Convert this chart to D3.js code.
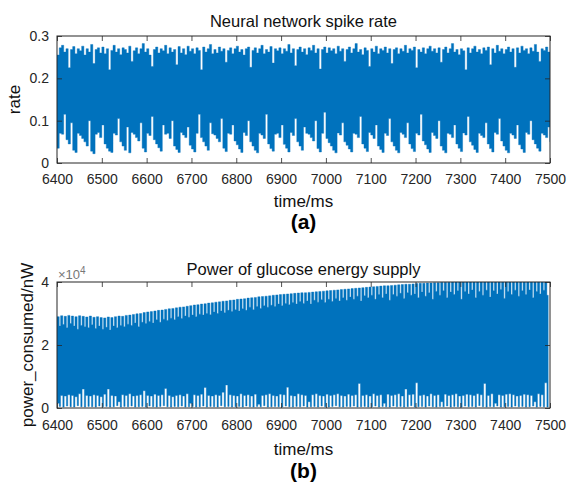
<!DOCTYPE html>
<html><head><meta charset="utf-8">
<script src="https://cdn.jsdelivr.net/npm/d3@7"></script>
<style>
html,body{margin:0;padding:0;background:#fff;}
svg{display:block;font-family:"Liberation Sans",Arial,Helvetica,sans-serif;}
</style></head>
<body><svg id="chart" width="567" height="484"></svg>
<script>
// ---------- Data: panel (a) Neural network spike rate ----------
const aTitle = "Neural network spike rate";
const aXTicks = [6400,6500,6600,6700,6800,6900,7000,7100,7200,7300,7400,7500];
const aYTicks = [0,0.1,0.2,0.3];
const aStart = 6400, aStep = 5;           // ms per sample (min / max of the rate within it)
const aTroughs = [
0.035,0.07,0.068,0.115,0.055,0.045,0.095,0.03,0.025,0.07,
0.065,0.058,0.05,0.04,0.1,0.028,0.022,0.068,0.072,0.06,
0.09,0.045,0.035,0.028,0.025,0.07,0.066,0.105,0.05,0.04,
0.03,0.085,0.024,0.072,0.068,0.06,0.052,0.095,0.035,0.026,
0.07,0.065,0.11,0.055,0.045,0.036,0.028,0.09,0.068,0.07,
0.058,0.1,0.04,0.032,0.025,0.072,0.066,0.06,0.085,0.042,
0.033,0.026,0.07,0.115,0.06,0.05,0.04,0.03,0.095,0.069,
0.066,0.058,0.05,0.105,0.035,0.027,0.07,0.068,0.09,0.052,
0.043,0.033,0.025,0.072,0.065,0.1,0.05,0.04,0.03,0.024,
0.07,0.066,0.058,0.115,0.045,0.034,0.028,0.068,0.07,0.06,
0.09,0.044,0.035,0.026,0.072,0.065,0.105,0.05,0.04,0.03,
0.085,0.07,0.068,0.06,0.052,0.1,0.034,0.026,0.07,0.12,
0.058,0.048,0.04,0.03,0.024,0.071,0.066,0.095,0.05,0.042,
0.033,0.026,0.07,0.068,0.06,0.11,0.045,0.035,0.027,0.072,
0.066,0.058,0.09,0.04,0.032,0.025,0.07,0.065,0.105,0.05,
0.04,0.03,0.024,0.072,0.068,0.06,0.095,0.045,0.034,0.027,
0.07,0.066,0.115,0.052,0.043,0.033,0.025,0.072,0.065,0.058,
0.1,0.04,0.03,0.024,0.07,0.068,0.06,0.09,0.045,0.035,
0.027,0.071,0.066,0.11,0.05,0.042,0.032,0.025,0.07,0.065,
0.06,0.095,0.045,0.034,0.026,0.072,0.068,0.105,0.052,0.04,
0.03,0.024,0.07,0.066,0.058,0.09,0.043,0.033,0.025,0.072,
0.068,0.1,0.055,0.045,0.035,0.028,0.07,0.066,0.06,0.085,
0.05];
const aPeaks = [
0.255,0.272,0.278,0.262,0.27,0.225,0.268,0.275,0.258,0.27,
0.265,0.276,0.255,0.27,0.262,0.28,0.235,0.268,0.272,0.26,
0.274,0.258,0.27,0.22,0.266,0.278,0.262,0.27,0.256,0.272,
0.268,0.26,0.276,0.24,0.265,0.272,0.258,0.27,0.282,0.262,
0.27,0.255,0.228,0.268,0.274,0.26,0.27,0.265,0.278,0.258,
0.272,0.262,0.268,0.232,0.275,0.26,0.27,0.256,0.276,0.264,
0.27,0.258,0.272,0.266,0.22,0.274,0.262,0.27,0.28,0.258,
0.268,0.26,0.274,0.264,0.27,0.238,0.266,0.272,0.258,0.27,
0.276,0.262,0.268,0.255,0.27,0.274,0.226,0.266,0.272,0.26,
0.27,0.278,0.258,0.268,0.262,0.275,0.236,0.27,0.265,0.272,
0.258,0.27,0.264,0.28,0.26,0.27,0.23,0.268,0.274,0.262,
0.27,0.256,0.272,0.266,0.278,0.26,0.27,0.222,0.268,0.274,
0.26,0.272,0.265,0.27,0.258,0.276,0.264,0.27,0.24,0.268,
0.274,0.26,0.27,0.282,0.262,0.268,0.256,0.272,0.266,0.228,
0.27,0.262,0.276,0.258,0.27,0.266,0.274,0.26,0.27,0.235,
0.268,0.272,0.258,0.27,0.264,0.278,0.26,0.27,0.266,0.274,
0.225,0.268,0.262,0.272,0.258,0.27,0.276,0.264,0.27,0.26,
0.272,0.238,0.268,0.274,0.26,0.27,0.282,0.262,0.268,0.256,
0.27,0.265,0.22,0.272,0.26,0.27,0.276,0.262,0.268,0.258,
0.272,0.266,0.274,0.232,0.27,0.26,0.278,0.264,0.27,0.258,
0.268,0.274,0.262,0.27,0.226,0.272,0.26,0.276,0.266,0.27,
0.258,0.272,0.264,0.28,0.262,0.24,0.27,0.266,0.274,0.262];

// ---------- Data: panel (b) Power of glucose energy supply (x 10^4 nW) ----------
const bTitle = "Power of glucose energy supply";
const bXTicks = aXTicks;
const bYTicks = [0,2,4];
const bStart = 6400, bStep = 8, bSplit = 5;   // ms; each cycle: main part then short dip part
const bPeakA = [
2.9,2.93,2.91,2.94,2.92,2.9,2.93,2.91,2.89,2.92,
2.88,2.9,2.87,2.86,2.89,2.87,2.9,2.92,2.91,2.94,
2.95,2.97,2.99,3.0,3.03,3.05,3.06,3.08,3.1,3.11,
3.13,3.15,3.16,3.18,3.2,3.21,3.23,3.25,3.27,3.28,
3.3,3.31,3.33,3.34,3.36,3.37,3.39,3.4,3.42,3.43,
3.45,3.46,3.47,3.49,3.5,3.51,3.53,3.54,3.55,3.56,
3.58,3.59,3.6,3.61,3.62,3.63,3.64,3.65,3.66,3.66,
3.67,3.68,3.69,3.7,3.71,3.72,3.73,3.74,3.75,3.76,
3.77,3.78,3.79,3.8,3.81,3.82,3.83,3.84,3.85,3.86,
3.87,3.88,3.88,3.89,3.9,3.91,3.92,3.93,3.93,3.94,
3.95,3.96,3.96,3.97,3.97,3.98,3.98,3.99,3.99,3.99,
4.0,4.0,4.0,4.0,4.0,4.0,4.0,4.0,4.0,4.0,
4.0,4.0,4.0,4.0,4.0,4.0,4.0,4.0,4.0,4.0,
4.0,4.0,4.0,4.0,4.0,4.0,4.0];
const bGapTrough = [
0.15,0.4,0.38,0.42,0.4,0.36,0.45,0.6,0.4,0.38,
0.42,0.4,0.36,0.44,0.6,0.4,0.38,0.2,0.42,0.4,
0.45,0.38,0.4,0.42,0.55,0.4,0.38,0.44,0.4,0.42,
0.62,0.4,0.36,0.4,0.42,0.38,0.45,0.15,0.42,0.4,
0.44,0.65,0.4,0.38,0.42,0.4,0.5,0.73,0.42,0.4,
0.38,0.45,0.4,0.42,0.38,0.44,0.12,0.4,0.42,0.45,
0.4,0.38,0.44,0.42,0.66,0.4,0.38,0.45,0.42,0.4,
0.2,0.42,0.45,0.4,0.38,0.44,0.4,0.42,0.45,0.4,
0.38,0.44,0.4,0.42,0.78,0.4,0.42,0.38,0.45,0.4,
0.42,0.15,0.44,0.4,0.42,0.45,0.38,0.6,0.42,0.44,
0.8,0.4,0.42,0.38,0.45,0.4,0.42,0.2,0.44,0.4,
0.42,0.45,0.38,0.4,0.44,0.42,0.4,0.45,0.42,0.78,
0.4,0.45,0.15,0.42,0.4,0.44,0.45,0.42,0.38,0.4,
0.44,0.42,0.4,0.2,0.45,0.42,0.8];
const bPeakB = [
2.6,2.65,2.55,2.68,2.6,2.5,2.62,2.58,2.55,2.64,
2.52,2.6,2.5,2.56,2.48,2.6,2.55,2.62,2.58,2.66,
2.62,2.7,2.58,2.72,2.68,2.75,2.7,2.8,2.72,2.82,
2.78,2.85,2.8,2.9,2.84,2.92,2.88,2.95,2.9,2.98,
2.95,3.0,2.96,3.05,3.0,3.08,3.02,3.1,3.06,3.12,
3.08,3.15,3.1,3.2,3.12,3.22,3.16,3.25,3.2,3.26,
3.22,3.3,3.25,3.32,3.28,3.35,3.3,3.38,3.32,3.4,
3.3,3.42,3.36,3.44,3.35,3.45,3.38,3.48,3.4,3.5,
3.42,3.52,3.45,3.55,3.4,3.56,3.5,3.58,3.45,3.6,
3.5,3.62,3.42,3.6,3.55,3.64,3.48,3.66,3.58,3.62,
3.5,3.68,3.55,3.66,3.45,3.7,3.58,3.72,3.5,3.68,
3.6,3.72,3.45,3.7,3.62,3.75,3.5,3.7,3.58,3.74,
3.52,3.72,3.62,3.76,3.48,3.7,3.6,3.74,3.55,3.72,
3.6,3.75,3.5,3.7,3.62,3.74,3.58];
const bDeepTrough = [
0.05,0.03,0.06,0.04,0.03,0.07,0.04,0.03,0.05,0.04,
0.03,0.06,0.04,0.05,0.03,0.04,0.07,0.03,0.05,0.04,
0.06,0.03,0.04,0.05,0.03,0.06,0.04,0.03,0.05,0.07,
0.04,0.03,0.05,0.04,0.06,0.03,0.04,0.05,0.03,0.04,
0.06,0.03,0.05,0.04,0.03,0.07,0.04,0.05,0.03,0.04,
0.05,0.03,0.06,0.04,0.03,0.05,0.04,0.07,0.03,0.04,
0.05,0.04,0.03,0.06,0.04,0.03,0.05,0.04,0.06,0.03,
0.04,0.05,0.03,0.06,0.04,0.03,0.05,0.07,0.04,0.03,
0.05,0.04,0.06,0.03,0.04,0.05,0.03,0.04,0.06,0.03,
0.05,0.04,0.03,0.06,0.04,0.05,0.03,0.04,0.07,0.03,
0.04,0.05,0.03,0.06,0.04,0.03,0.05,0.04,0.06,0.03,
0.05,0.04,0.03,0.06,0.04,0.05,0.03,0.07,0.04,0.03,
0.05,0.04,0.06,0.03,0.04,0.05,0.03,0.06,0.04,0.05,
0.03,0.04,0.06,0.03,0.05,0.04,0.03];
const bEndValue = 2.0;   // value at t = 7500

// ---------- Build sample sequences [t, low, high] ----------
const aPts = aTroughs.map((v,i)=>[aStart + i*aStep, v, i < aPeaks.length ? aPeaks[i] : v]);
const bPts = [];
bPeakA.forEach((v,i)=>{
  const t = bStart + i*bStep;
  bPts.push([t, bGapTrough[i], v]);
  bPts.push([t + bSplit, bDeepTrough[i], bPeakB[i]]);
});
const bLastT = bStart + bPeakA.length*bStep;
bPts.push([bLastT, bEndValue, bEndValue]);

// ---------- Drawing ----------
const svg = d3.select("#chart");
const BLUE = "#0072BD", AX = "#262626";
const L = 57, R = 550;
const FONT = '"Liberation Sans",Arial,sans-serif';

function panel(cfg){
  const g = svg.append("g");
  const x = d3.scaleLinear().domain([6400,7500]).range([L,R]);
  const y = d3.scaleLinear().domain(cfg.yDomain).range([cfg.bottom, cfg.top]);
  const id = "clip" + cfg.key;
  svg.append("defs").append("clipPath").attr("id", id)
    .append("rect").attr("x", L).attr("y", cfg.top).attr("width", R-L).attr("height", cfg.bottom-cfg.top);
  g.append("path").datum(cfg.pts)
    .attr("clip-path", `url(#${id})`)
    .attr("fill",BLUE).attr("stroke",BLUE).attr("stroke-width",0.4)
    .attr("d", d3.area().curve(d3.curveStepAfter)
      .x(d=>x(d[0])).y0(d=>y(d[1])).y1(d=>y(d[2])));
  const ax = (gen, tr) => {
    const a = g.append("g").attr("transform", tr).call(gen);
    a.select(".domain").remove();
    a.selectAll("line").attr("stroke", AX).attr("stroke-width", 0.8);
    a.selectAll("text").attr("fill", AX).style("font-size","14px").style("font-family",FONT);
    return a;
  };
  ax(d3.axisBottom(x).tickValues(cfg.xTicks).tickSize(-5).tickSizeOuter(0).tickPadding(cfg.xPad).tickFormat(d3.format("d")),
     `translate(0,${cfg.bottom})`);
  ax(d3.axisTop(x).tickValues(cfg.xTicks).tickSize(-5).tickSizeOuter(0).tickFormat(""),
     `translate(0,${cfg.top})`);
  ax(d3.axisLeft(y).tickValues(cfg.yTicks).tickSize(-5).tickSizeOuter(0).tickPadding(8).tickFormat(cfg.yFmt),
     `translate(${L},0)`);
  ax(d3.axisRight(y).tickValues(cfg.yTicks).tickSize(-5).tickSizeOuter(0).tickFormat(""),
     `translate(${R},0)`);
  g.append("rect").attr("x",L).attr("y",cfg.top).attr("width",R-L).attr("height",cfg.bottom-cfg.top)
    .attr("fill","none").attr("stroke",AX).attr("stroke-width",1);
  g.append("text").attr("x",(L+R)/2).attr("y",cfg.titleY).attr("text-anchor","middle")
    .attr("fill","#111").style("font-size","16.5px").text(cfg.title);
  g.append("text").attr("x",(L+R)/2).attr("y",cfg.xlabY).attr("text-anchor","middle")
    .attr("fill","#111").style("font-size","17px").text("time/ms");
  g.append("text").attr("x",(L+R)/2).attr("y",cfg.tagY).attr("text-anchor","middle")
    .attr("fill","#000").style("font-size","21px").style("font-weight","bold").text(cfg.tag);
  g.append("text").attr("transform",`translate(${cfg.ylabX},${(cfg.top+cfg.bottom)/2}) rotate(-90)`)
    .attr("text-anchor","middle").attr("fill","#111").style("font-size",cfg.ylabSize).text(cfg.ylab);
  return {x,y,g};
}

panel({key:"a", pts:aPts, yDomain:[0,0.3], top:36, bottom:163, xTicks:aXTicks, yTicks:aYTicks,
  yFmt:d=>d===0?"0":d3.format(".1f")(d), xPad:11, title:aTitle, titleY:27, xlabY:207, tagY:229,
  tag:"(a)", ylab:"rate", ylabX:20, ylabSize:"17px"});

const pb = panel({key:"b", pts:bPts, yDomain:[0,4], top:282, bottom:408, xTicks:bXTicks, yTicks:bYTicks,
  yFmt:d3.format("d"), xPad:12, title:bTitle, titleY:275, xlabY:455, tagY:478,
  tag:"(b)", ylab:"power_consumed/nW", ylabX:33, ylabSize:"17px"});

const ex = pb.g.append("text").attr("x",58).attr("y",279).attr("fill","#777").style("font-size","13px");
ex.append("tspan").text("\u00d710");
ex.append("tspan").attr("dy",-5).style("font-size","10px").text("4");
</script>
</body></html>
